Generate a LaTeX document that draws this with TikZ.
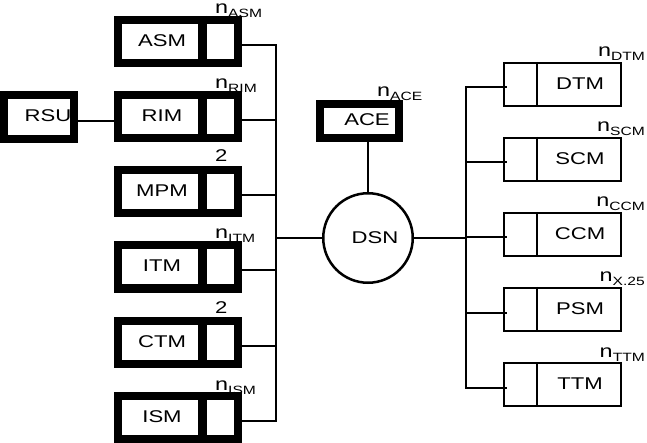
\documentclass[tikz,border=0pt]{standalone}
\usepackage{fontspec}
\setmainfont{Liberation Sans}[FakeStretch=1.3]
\usepackage{tikz}
\usetikzlibrary{positioning}

\newcommand{\nsub}[1]{{\fontsize{18}{18}\selectfont n}\raisebox{-4pt}{\fontsize{12}{12}\selectfont #1}}

\begin{document}
\begin{tikzpicture}[x=1pt, y=-1pt,
    every node/.style={font=\fontsize{17}{17}\selectfont, inner sep=0pt},
    heavybox/.style={draw, line width=8pt, minimum width=120pt, minimum height=43pt},
    heavysplit/.style={line width=9pt},
    lightbox/.style={draw, line width=2pt, minimum width=117pt, minimum height=43pt},
    lightsplit/.style={line width=2pt},
    hub/.style={draw, circle, line width=2.5pt, minimum size=89.5pt},
    link/.style={line width=2pt}]
    \useasboundingbox (0,0) rectangle (647,443);

    % Left column of modules
    \node[heavybox] (asm) at (178,41.5) {};
    \draw[heavysplit] ([xshift=24pt]asm.north) -- ([xshift=24pt]asm.south);
    \node (asmname) at (162,40.5) {ASM};
    \node[anchor=base west] (asmcount) at (215,13.5) {\nsub{ASM}};

    \node[heavybox] (rim) at (178,117) {};
    \draw[heavysplit] ([xshift=24pt]rim.north) -- ([xshift=24pt]rim.south);
    \node (rimname) at (162,116) {RIM};
    \node[anchor=base west] (rimcount) at (215,89) {\nsub{RIM}};

    \node[heavybox] (mpm) at (178,192) {};
    \draw[heavysplit] ([xshift=24pt]mpm.north) -- ([xshift=24pt]mpm.south);
    \node (mpmname) at (162,191) {MPM};
    \node[anchor=base west] (mpmcount) at (215,162) {2};

    \node[heavybox] (itm) at (178,267) {};
    \draw[heavysplit] ([xshift=24pt]itm.north) -- ([xshift=24pt]itm.south);
    \node (itmname) at (162,266) {ITM};
    \node[anchor=base west] (itmcount) at (215,239) {\nsub{ITM}};

    \node[heavybox] (ctm) at (178,342.5) {};
    \draw[heavysplit] ([xshift=24pt]ctm.north) -- ([xshift=24pt]ctm.south);
    \node (ctmname) at (162,341.5) {CTM};
    \node[anchor=base west] (ctmcount) at (215,313) {2};

    \node[heavybox] (ism) at (178,417.5) {};
    \draw[heavysplit] ([xshift=24pt]ism.north) -- ([xshift=24pt]ism.south);
    \node (ismname) at (162,416.5) {ISM};
    \node[anchor=base west] (ismcount) at (215,390) {\nsub{ISM}};

    % Remote unit in front of RIM
    \node[heavybox, minimum width=70pt, minimum height=44pt] (rsu) at (39,117) {};
    \node (rsuname) at (48,116) {RSU};
    \draw[link] ([yshift=-4pt]rsu.east) -- ([yshift=-4pt]rim.west);

    % Switching network and its control element
    \node[hub] (dsn) at (368,238) {};
    \node (dsnname) at (375,238) {DSN};
    \node[heavybox, minimum width=79pt, minimum height=34pt] (ace) at (359.5,121) {};
    \node (acename) at (367,120) {ACE};
    \node[anchor=base west] (acecount) at (377,97) {\nsub{ACE}};
    \draw[link] (dsn.north) -- (dsn.north |- ace.south);

    % Left bus
    \coordinate (lbus) at (276,238);
    \draw[link] ([yshift=-3.5pt]asm.east) -| (lbus);
    \draw[link] ([yshift=-3.5pt]rim.east) -| (lbus);
    \draw[link] ([yshift=-3.5pt]mpm.east) -| (lbus);
    \draw[link] ([yshift=-3.5pt]itm.east) -| (lbus);
    \draw[link] ([yshift=-3.5pt]ctm.east) -| (lbus);
    \draw[link] ([yshift=-3.5pt]ism.east) -| (lbus);
    \draw[link] (lbus) -- (dsn);

    % Right column of modules
    \node[lightbox] (dtm) at (562.5,84.5) {};
    \draw[lightsplit] ([xshift=-25.5pt]dtm.north) -- ([xshift=-25.5pt]dtm.south);
    \node (dtmname) at (580,84) {DTM};
    \node[anchor=base east] (dtmcount) at (645,57) {\nsub{DTM}};

    \node[lightbox] (scm) at (562.5,159.5) {};
    \draw[lightsplit] ([xshift=-25.5pt]scm.north) -- ([xshift=-25.5pt]scm.south);
    \node (scmname) at (580,159) {SCM};
    \node[anchor=base east] (scmcount) at (645,132) {\nsub{SCM}};

    \node[lightbox] (ccm) at (562.5,234.5) {};
    \draw[lightsplit] ([xshift=-25.5pt]ccm.north) -- ([xshift=-25.5pt]ccm.south);
    \node (ccmname) at (580,234) {CCM};
    \node[anchor=base east] (ccmcount) at (645,207) {\nsub{CCM}};

    \node[lightbox] (psm) at (562.5,309.5) {};
    \draw[lightsplit] ([xshift=-25.5pt]psm.north) -- ([xshift=-25.5pt]psm.south);
    \node (psmname) at (580,309) {PSM};
    \node[anchor=base east] (psmcount) at (645,282) {\nsub{X.25}};

    \node[lightbox] (ttm) at (562.5,384.5) {};
    \draw[lightsplit] ([xshift=-25.5pt]ttm.north) -- ([xshift=-25.5pt]ttm.south);
    \node (ttmname) at (580,384) {TTM};
    \node[anchor=base east] (ttmcount) at (645,357) {\nsub{TTM}};

    % Right bus
    \coordinate (rbus) at (466,238);
    \draw[link] (dsn) -- (rbus);
    \draw[link] (rbus) |- ([xshift=4pt,yshift=-3pt]dtm.west);
    \draw[link] (rbus) |- ([xshift=4pt,yshift=-3pt]scm.west);
    \draw[link] (rbus) |- ([xshift=4pt,yshift=-3pt]ccm.west);
    \draw[link] (rbus) |- ([xshift=4pt,yshift=-3pt]psm.west);
    \draw[link] (rbus) |- ([xshift=4pt,yshift=-3pt]ttm.west);
\end{tikzpicture}
\end{document}
